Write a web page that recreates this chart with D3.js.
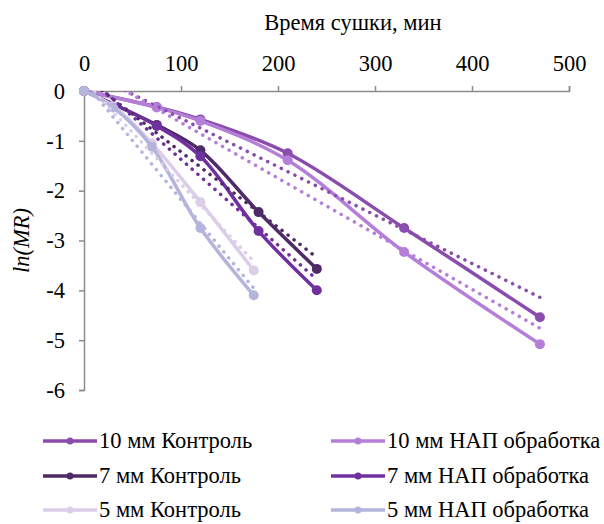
<!DOCTYPE html>
<html lang="en">
    <head>
        <meta charset="utf-8">
        <title>Время сушки</title>
        <script src="https://d3js.org/d3.v7.min.js"></script>
        <style type="text/css">
            body { margin: 0; background: #fff; }
            text { font-family: "Liberation Serif", "Times New Roman", "DejaVu Serif", serif; fill: #000; }
        </style>
    </head>
    <body>
        <script>
            // data
            var seriesNames = ["10 мм Контроль", "10 мм НАП обработка", "7 мм Контроль",
                               "7 мм НАП обработка", "5 мм Контроль", "5 мм НАП обработка"];
            var seriesColors = ["#8a4dad", "#b57fd9", "#4e2a66", "#7030a0", "#dccde8", "#b4b4dc"];

            var time10 = [0, 75, 120, 210, 330, 470];
            var time7 = [0, 75, 120, 180, 240];
            var time5 = [0, 30, 70, 120, 175];

            var ctrl10 = [0, -0.32, -0.57, -1.25, -2.75, -4.54];
            var nap10 = [0, -0.33, -0.6, -1.39, -3.23, -5.08];
            var ctrl7 = [0, -0.68, -1.19, -2.43, -3.57];
            var nap7 = [0, -0.7, -1.31, -2.81, -4.0];
            var ctrl5 = [0, -0.3, -1.05, -2.23, -3.6];
            var nap5 = [0, -0.33, -1.12, -2.75, -4.1];

            // linear trend lines: value at t = 0 and at the last time point
            var trend10ctrl = [0.42, -4.14];
            var trend10nap = [0.48, -4.76];
            var trend7ctrl = [0.29, -3.34];
            var trend7nap = [0.35, -3.78];
            var trend5ctrl = [0.2, -3.42];
            var trend5nap = [0.19, -3.96];

            var xTicks = [0, 100, 200, 300, 400, 500];
            var yTicks = [0, -1, -2, -3, -4, -5, -6];

            var series = [
                { name: seriesNames[0], color: seriesColors[0], t: time10, v: ctrl10, trend: trend10ctrl },
                { name: seriesNames[1], color: seriesColors[1], t: time10, v: nap10, trend: trend10nap },
                { name: seriesNames[2], color: seriesColors[2], t: time7, v: ctrl7, trend: trend7ctrl },
                { name: seriesNames[3], color: seriesColors[3], t: time7, v: nap7, trend: trend7nap },
                { name: seriesNames[4], color: seriesColors[4], t: time5, v: ctrl5, trend: trend5ctrl },
                { name: seriesNames[5], color: seriesColors[5], t: time5, v: nap5, trend: trend5nap }
            ];

            // configuration
            var outerWidth = 604;
            var outerHeight = 524;
            var margin = { left: 84, top: 91, right: 35, bottom: 134 };
            var innerWidth = outerWidth - margin.left - margin.right;
            var innerHeight = outerHeight - margin.top - margin.bottom;
            var fontSize = "22.5px";
            var fontFamily = "'Liberation Serif', 'Times New Roman', 'DejaVu Serif', serif";

            var svg = d3.select("body")
                        .append("svg")
                        .attr("width", outerWidth)
                        .attr("height", outerHeight)
                        .attr("font-family", fontFamily);

            var g = svg.append("g")
                .attr("transform", "translate(" + margin.left + "," + margin.top + ")");

            var xScale = d3.scaleLinear().domain([0, 500]).range([0, innerWidth]);
            var yScale = d3.scaleLinear().domain([-6, 0]).range([innerHeight, 0]);

            svg.append("clipPath").attr("id", "plot")
                .append("rect")
                .attr("x", -6).attr("y", -6)
                .attr("width", innerWidth + 12).attr("height", innerHeight + 12);
            svg.append("clipPath").attr("id", "trendclip")
                .append("rect")
                .attr("x", 0).attr("y", 0)
                .attr("width", innerWidth).attr("height", innerHeight);

            // axes
            var xAxis = g.append("g")
                .attr("transform", "translate(0," + yScale(0) + ")")
                .call(d3.axisTop(xScale).tickValues(xTicks).tickSize(5).tickPadding(15));
            var yAxis = g.append("g")
                .call(d3.axisLeft(yScale).tickValues(yTicks).tickSize(5).tickPadding(14)
                      .tickFormat(function (d) { return d === 0 ? "0" : "-" + Math.abs(d); }));

            [xAxis, yAxis].forEach(function (ax) {
                ax.attr("font-family", fontFamily).attr("font-size", fontSize);
                ax.select(".domain").attr("stroke", "#8c8c8c").attr("stroke-width", 1.5);
                ax.selectAll(".tick line").attr("stroke", "#8c8c8c").attr("stroke-width", 1.5);
                ax.selectAll(".tick text")
                    .style("font-family", fontFamily)
                    .style("font-size", fontSize)
                    .attr("fill", "#000");
            });

            svg.append("text")
                .attr("x", 353).attr("y", 30)
                .attr("text-anchor", "middle")
                .style("font-size", fontSize)
                .text("Время сушки, мин");

            svg.append("text")
                .attr("transform", "translate(29," + (margin.top + innerHeight / 2) + ") rotate(-90)")
                .attr("text-anchor", "middle")
                .style("font-size", fontSize)
                .style("font-style", "italic")
                .text("ln(MR)");

            var line = d3.line()
                .x(function (d) { return xScale(d[0]); })
                .y(function (d) { return yScale(d[1]); })
                .curve(d3.curveCatmullRom.alpha(0.5));

            // data lines and markers
            series.forEach(function (s) {
                var pts = s.t.map(function (t, i) { return [t, s.v[i]]; });
                var sg = g.append("g").attr("clip-path", "url(#plot)");
                sg.append("path")
                    .datum(pts)
                    .attr("d", line)
                    .attr("fill", "none")
                    .attr("stroke", s.color)
                    .attr("stroke-width", 3.5);
                sg.selectAll("circle").data(pts).enter().append("circle")
                    .attr("cx", function (d) { return xScale(d[0]); })
                    .attr("cy", function (d) { return yScale(d[1]); })
                    .attr("r", 5)
                    .attr("fill", s.color);
            });

            // trend lines (dotted)
            series.forEach(function (s) {
                var tEnd = s.t[s.t.length - 1];
                g.append("line")
                    .attr("clip-path", "url(#trendclip)")
                    .attr("x1", xScale(0)).attr("y1", yScale(s.trend[0]))
                    .attr("x2", xScale(tEnd)).attr("y2", yScale(s.trend[1]))
                    .attr("stroke", s.color)
                    .attr("stroke-width", 3.5)
                    .attr("stroke-linecap", "round")
                    .attr("stroke-dasharray", "0.1 7.5");
            });

            // legend
            var legendX = [43, 331];
            var legendY = [441, 476, 510];
            series.forEach(function (s, i) {
                var lx = legendX[i % 2];
                var ly = legendY[Math.floor(i / 2)];
                var lg = svg.append("g").attr("transform", "translate(" + lx + "," + ly + ")");
                lg.append("line")
                    .attr("x1", 0).attr("x2", 54)
                    .attr("y1", 0).attr("y2", 0)
                    .attr("stroke", s.color)
                    .attr("stroke-width", 3.5);
                lg.append("circle")
                    .attr("cx", 27).attr("cy", 0).attr("r", 3.5)
                    .attr("fill", s.color);
                lg.append("text")
                    .attr("x", 56).attr("y", 7)
                    .style("font-size", fontSize)
                    .text(s.name);
            });
        </script>
    </body>
</html>
